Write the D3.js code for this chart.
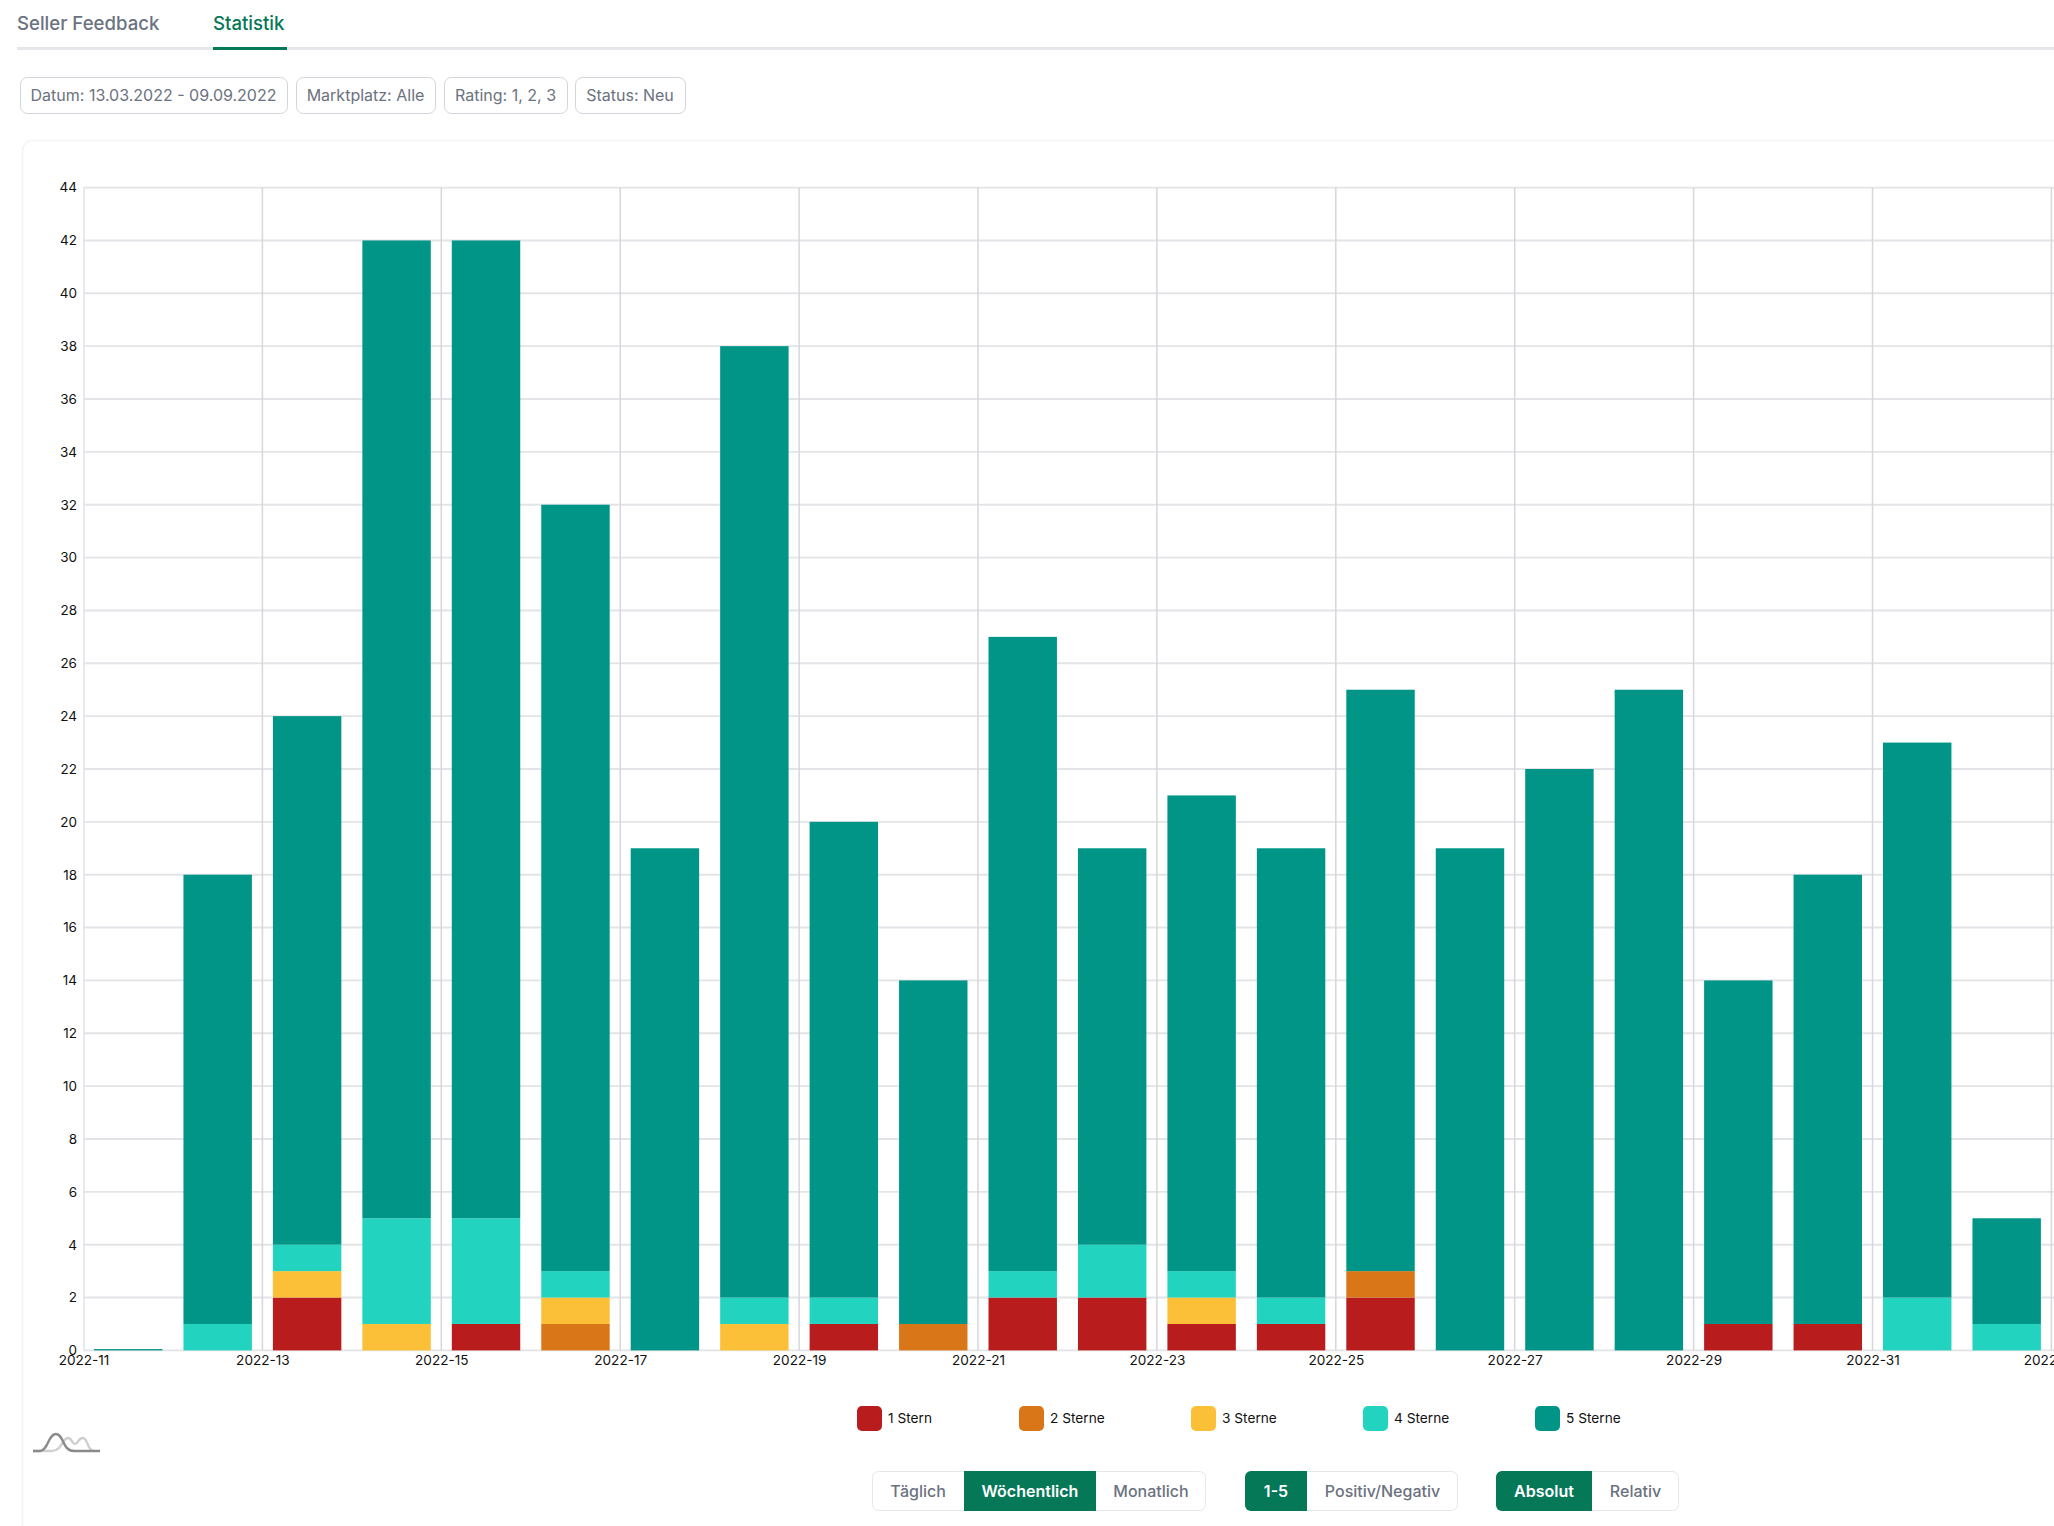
<!DOCTYPE html>
<html>
<head>
<meta charset="utf-8">
<script src="https://cdn.jsdelivr.net/npm/d3@7"></script>
<style>
  html, body { margin: 0; padding: 0; background: #fff; overflow: hidden; }
  svg { display: block; font-family: Inter, "Noto Sans", sans-serif; }
</style>
</head>
<body>
<div id="chart"></div>
<script>
// Weekly categories, 2022-33 only shows as a cut off tick at the right edge
const weeks = ['2022-11','2022-12','2022-13','2022-14','2022-15','2022-16','2022-17','2022-18','2022-19','2022-20','2022-21','2022-22','2022-23','2022-24','2022-25','2022-26','2022-27','2022-28','2022-29','2022-30','2022-31','2022-32','2022-33'];
const xTickLabels = ['2022-11','2022-13','2022-15','2022-17','2022-19','2022-21','2022-23','2022-25','2022-27','2022-29','2022-31','2022-33'];
const yTickValues = [0,2,4,6,8,10,12,14,16,18,20,22,24,26,28,30,32,34,36,38,40,42,44];

const seriesKeys = ['1 Stern','2 Sterne','3 Sterne','4 Sterne','5 Sterne'];
const seriesColors = ['#b91c1c','#d97718','#fcbf38','#22d4bf','#009587'];

const oneStar   = [0,0,2,0,1,0,0,0,1,0,2,2,1,1,2,0,0,0,1,1,0,0,0];
const twoStars  = [0,0,0,0,0,1,0,0,0,1,0,0,0,0,1,0,0,0,0,0,0,0,0];
const threeStars= [0,0,1,1,0,1,0,1,0,0,0,0,1,0,0,0,0,0,0,0,0,0,0];
const fourStars = [0,1,1,4,4,1,0,1,1,0,1,2,1,1,0,0,0,0,0,0,2,1,0];
const fiveStars = [0.05,17,20,37,37,29,19,36,18,13,24,15,18,17,22,19,22,25,13,17,21,4,0];

const tabs = ['Seller Feedback','Statistik'];
const filters = ['Datum: 13.03.2022 - 09.09.2022','Marktplatz: Alle','Rating: 1, 2, 3','Status: Neu'];
const buttonGroups = [
  [['Täglich',false],['Wöchentlich',true],['Monatlich',false]],
  [['1-5',true],['Positiv/Negativ',false]],
  [['Absolut',true],['Relativ',false]]
];

const width = 2054, height = 1526;
const green = '#047857', gray = '#6b7280';

const svg = d3.select('#chart').append('svg')
  .attr('width', width)
  .attr('height', height)
  .attr('viewBox', `0 0 ${width} ${height}`);

// Tabs
svg.append('rect').attr('x', 17).attr('y', 47).attr('width', width - 17).attr('height', 3).attr('fill', '#e5e7eb');
svg.append('rect').attr('x', 213).attr('y', 47).attr('width', 74).attr('height', 3).attr('fill', green);
svg.append('text').attr('x', 17).attr('y', 30).attr('font-size', 18.6).attr('font-weight', 500).attr('fill', gray).text(tabs[0]);
svg.append('text').attr('x', 213).attr('y', 30).attr('font-size', 18.6).attr('font-weight', 500).attr('fill', green).text(tabs[1]);

// Filter pills
const pillX = [[20,287],[296,435],[444,567],[575,685]];
filters.forEach((label, i) => {
  const [x0, x1] = pillX[i];
  svg.append('rect').attr('x', x0 + .5).attr('y', 77.5).attr('width', x1 - x0).attr('height', 36).attr('rx', 7)
    .attr('fill', '#fff').attr('stroke', '#d1d5db');
  svg.append('text').attr('x', (x0 + x1) / 2).attr('y', 101).attr('text-anchor', 'middle')
    .attr('font-size', 16).attr('fill', gray).text(label);
});

// Card
svg.append('rect').attr('x', 22.5).attr('y', 140.5).attr('width', width).attr('height', height)
  .attr('rx', 10).attr('fill', '#fff').attr('stroke', '#f3f4f6').attr('stroke-width', 1.5);

// Scales
const x = d3.scaleBand().domain(weeks).range([83.5, 83.5 + 89.45 * weeks.length]).paddingInner(0.235).paddingOuter(0.1175);
const y = d3.scaleLinear().domain([0, 44]).range([1350.4, 187.6]);
const tickX = d => x(d) - x.step() * x.paddingInner() / 2;

// Grid
const grid = svg.append('g').attr('class', 'grid');
grid.selectAll('line.h').data(yTickValues).join('line').attr('class', 'h')
  .attr('x1', 83.5).attr('x2', width).attr('y1', d => y(d)).attr('y2', d => y(d))
  .attr('stroke', '#e3e4e7').attr('stroke-width', 1.9);
grid.append('line').attr('x1', 84).attr('x2', 84).attr('y1', y(44)).attr('y2', y(0))
  .attr('stroke', '#e3e4e7').attr('stroke-width', 1.6);
grid.selectAll('line.v').data(xTickLabels.slice(1)).join('line').attr('class', 'v')
  .attr('x1', tickX).attr('x2', tickX).attr('y1', y(44)).attr('y2', y(0))
  .attr('stroke', '#d6d7db').attr('stroke-width', 1.5);

// Stacked bars
const rows = weeks.map((w, i) => ({
  week: w,
  '1 Stern': oneStar[i],
  '2 Sterne': twoStars[i],
  '3 Sterne': threeStars[i],
  '4 Sterne': fourStars[i],
  '5 Sterne': fiveStars[i]
}));
const stacked = d3.stack().keys(seriesKeys)(rows);

svg.append('g').selectAll('g').data(stacked).join('g')
  .attr('fill', (d, i) => seriesColors[i])
  .selectAll('rect').data(d => d.filter(p => p[1] > p[0])).join('rect')
  .attr('x', d => x(d.data.week))
  .attr('width', x.bandwidth())
  .attr('y', d => y(d[1]))
  .attr('height', d => y(d[0]) - y(d[1]));

// Axis labels
const yAxis = d3.axisLeft(y).tickValues(yTickValues).tickSize(0).tickPadding(0);
const yG = svg.append('g').attr('transform', 'translate(77,0)').call(yAxis);
yG.select('.domain').remove();
yG.selectAll('text').attr('font-size', 13.5).attr('font-family', 'Inter').attr('fill', '#111');

const xLabelAxis = d3.axisBottom(d3.scalePoint().domain(xTickLabels).range([tickX(xTickLabels[0]), tickX(xTickLabels[xTickLabels.length - 1])]))
  .tickSize(0).tickPadding(5);
const xG = svg.append('g').attr('transform', `translate(0,${y(0)})`).call(xLabelAxis);
xG.select('.domain').remove();
xG.selectAll('text').attr('font-size', 13.6).attr('font-family', 'Inter').attr('fill', '#111');

// Legend
const legendX = [857,1019,1191,1363,1535];
seriesKeys.forEach((key, i) => {
  svg.append('rect').attr('x', legendX[i]).attr('y', 1406).attr('width', 25).attr('height', 25).attr('rx', 5).attr('fill', seriesColors[i]);
  svg.append('text').attr('x', legendX[i] + 31).attr('y', 1423).attr('font-size', 13.7).attr('fill', '#111').text(key);
});

// Peak icon bottom left
const icon = svg.append('g').attr('fill', 'none').attr('stroke-width', 2.4);
icon.append('path').attr('stroke', '#cfcfcf')
  .attr('d', 'M33,1451 L52,1451 C62,1451 62,1438 68,1438 C72,1438 72,1444 75,1444 C78,1444 78,1438 83,1438 C88,1438 87,1451 94,1451');
icon.append('path').attr('stroke', '#8a8a8a')
  .attr('d', 'M33,1451 L40,1451 C48,1451 48,1434 56,1434 C64,1434 62,1451 74,1451 L100,1451');

// Bottom toggle buttons
const buttonLayout = [
  [872,964,1096,1206],
  [1245,1307,1458],
  [1496,1592,1679]
];
buttonGroups.forEach((group, g) => {
  const edges = buttonLayout[g];
  const x0 = edges[0], x1 = edges[edges.length - 1];
  const clipId = `btn-clip-${g}`;
  svg.append('clipPath').attr('id', clipId).append('rect')
    .attr('x', x0).attr('y', 1471).attr('width', x1 - x0).attr('height', 40).attr('rx', 6);
  svg.append('rect').attr('x', x0 + .5).attr('y', 1471.5).attr('width', x1 - x0 - 1).attr('height', 39).attr('rx', 6)
    .attr('fill', 'none').attr('stroke', '#e5e7eb');
  const body = svg.append('g').attr('clip-path', `url(#${clipId})`);
  group.forEach(([label, active], i) => {
    if (active) {
      body.append('rect').attr('x', edges[i]).attr('y', 1471).attr('width', edges[i + 1] - edges[i]).attr('height', 40).attr('fill', green);
    }
    svg.append('text').attr('x', (edges[i] + edges[i + 1]) / 2).attr('y', 1497).attr('text-anchor', 'middle')
      .attr('font-size', 16).attr('font-weight', active ? 600 : 500).attr('fill', active ? '#fff' : gray).text(label);
  });
});
</script>
</body>
</html>
